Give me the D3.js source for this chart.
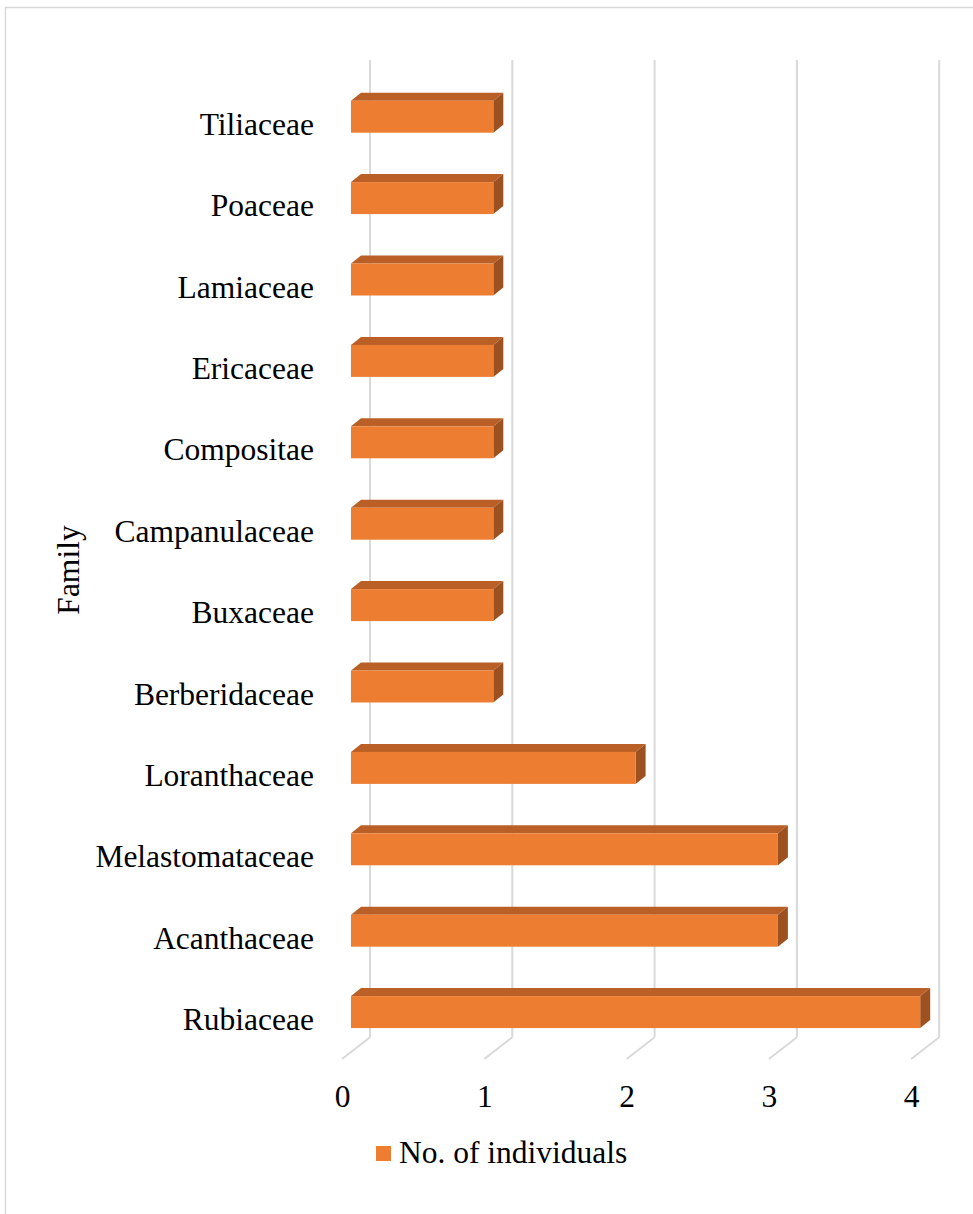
<!DOCTYPE html>
<html>
<head>
<meta charset="utf-8">
<script src="https://cdn.jsdelivr.net/npm/d3@7/dist/d3.min.js"></script>
<style>
  html, body { margin: 0; padding: 0; background: #fff; }
  svg { display: block; }
  text { font-family: "Liberation Serif", "Times New Roman", serif; fill: #000; }
</style>
</head>
<body>
<svg id="chart" width="973" height="1214"></svg>
<script>
const categories = ["Tiliaceae","Poaceae","Lamiaceae","Ericaceae","Compositae","Campanulaceae","Buxaceae","Berberidaceae","Loranthaceae","Melastomataceae","Acanthaceae","Rubiaceae"];
const values = [1,1,1,1,1,1,1,1,2,3,3,4];
const xTicks = [0,1,2,3,4];
const seriesName = "No. of individuals";
const yAxisTitle = "Family";

const svg = d3.select("#chart");
const W = 973, H = 1214;
const fontSize = 31.5;

// chart border
svg.append("rect").attr("x", 5.5).attr("y", 7.5).attr("width", 1000).attr("height", 1250)
  .attr("fill", "none").attr("stroke", "#D9D9D9").attr("stroke-width", 1.5);

const x = d3.scaleLinear().domain([0, 4]).range([351, 920.2]);
const y = d3.scaleBand().domain(categories).range([76, 1052.8]).paddingInner(0.607).paddingOuter(0.3035);

// 3D offsets
const backDx = 19, backDy = -14.7;   // bar front plane -> back wall
const frontDx = -9, frontDy = 7;     // bar front plane -> floor front edge
const barDx = 10, barDy = -8;        // bar depth
const wallTop = 60, floorBack = 1037.3, floorFront = 1059;

const grid = svg.append("g");
xTicks.forEach(v => {
  const xb = x(v) + backDx;
  grid.append("line").attr("x1", xb).attr("x2", xb).attr("y1", wallTop).attr("y2", floorBack)
    .attr("stroke", "#D9D9D9").attr("stroke-width", 2);
  grid.append("line").attr("x1", xb).attr("y1", floorBack).attr("x2", x(v) + frontDx).attr("y2", floorFront)
    .attr("stroke", "#D9D9D9").attr("stroke-width", 2);
});

// bars
const bars = svg.append("g");
categories.forEach((c, i) => {
  const v = values[i];
  const x0 = x(0), x1 = x(v);
  const t = y(c), b = y(c) + y.bandwidth();
  bars.append("polygon")
    .attr("points", [[x0, t], [x0 + barDx, t + barDy], [x1 + barDx, t + barDy], [x1, t]].map(p => p.join(",")).join(" "))
    .attr("fill", "#BA6027");
  bars.append("polygon")
    .attr("points", [[x1, t], [x1 + barDx, t + barDy], [x1 + barDx, b + barDy], [x1, b]].map(p => p.join(",")).join(" "))
    .attr("fill", "#9E5120");
  bars.append("rect").attr("x", x0).attr("y", t).attr("width", x1 - x0).attr("height", b - t)
    .attr("fill", "#ED7D31");
});

// category axis
const yAxis = svg.append("g").attr("transform", "translate(314,0)")
  .call(d3.axisLeft(y).tickSize(0).tickPadding(0));
yAxis.select(".domain").remove();
yAxis.selectAll("text").attr("dy", 0).attr("y", 18).attr("x", 0)
  .style("font-size", fontSize + "px").style("font-family", '"Liberation Serif", "Times New Roman", serif').attr("fill", "#000");

// value axis
const xAxis = svg.append("g").attr("transform", `translate(${frontDx},${floorFront})`)
  .call(d3.axisBottom(x).tickValues(xTicks).tickFormat(d3.format("d")).tickSize(0).tickPadding(0));
xAxis.select(".domain").remove();
xAxis.selectAll("text").attr("dy", 0).attr("y", 48)
  .style("font-size", fontSize + "px").style("font-family", '"Liberation Serif", "Times New Roman", serif').attr("fill", "#000");

// y axis title
svg.append("text").attr("transform", "translate(79,570) rotate(-90)")
  .attr("text-anchor", "middle").style("font-size", fontSize + "px").text(yAxisTitle);

// legend
svg.append("rect").attr("x", 376).attr("y", 1146).attr("width", 15).attr("height", 15).attr("fill", "#ED7D31");
svg.append("text").attr("x", 399).attr("y", 1163).style("font-size", fontSize + "px").text(seriesName);
</script>
</body>
</html>
